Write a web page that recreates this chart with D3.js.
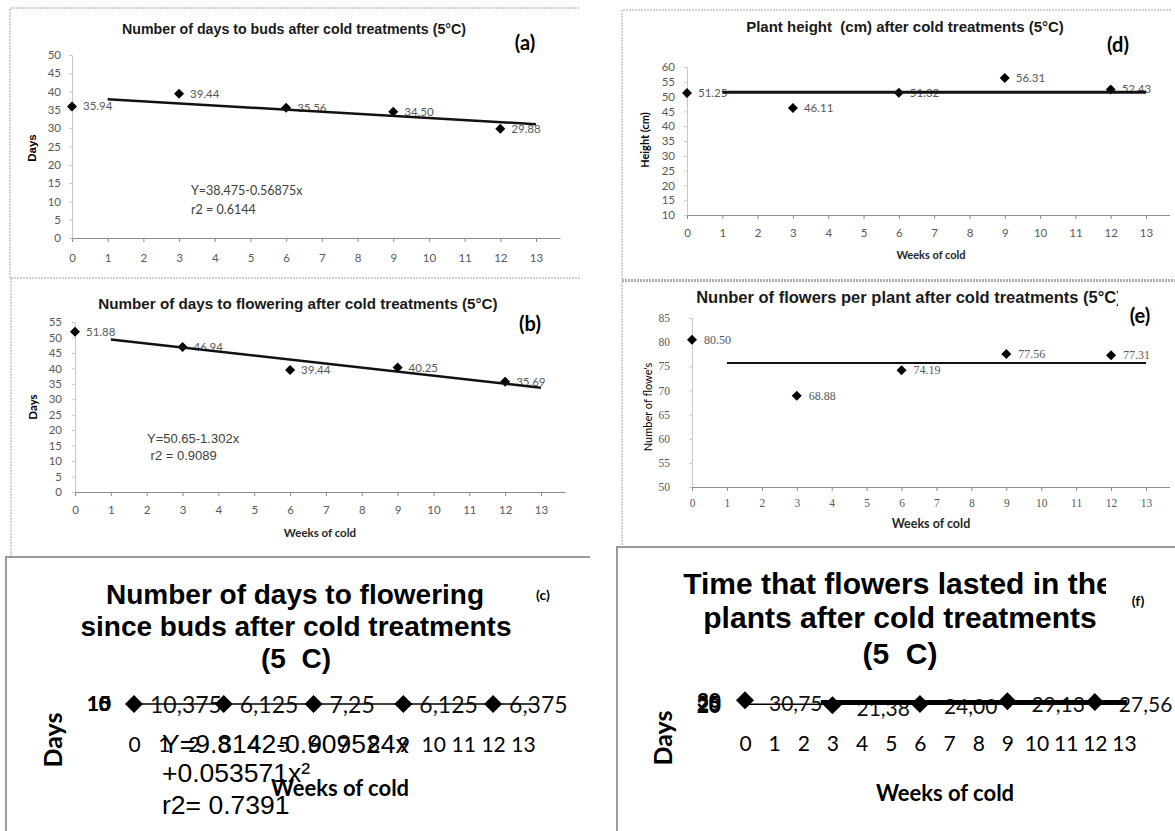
<!DOCTYPE html>
<html><head><meta charset="utf-8">
<script src="https://cdn.jsdelivr.net/npm/d3@7"></script>
<style>
body{margin:0;background:#fff}
svg{display:block}
</style></head><body>
<svg id="chart" width="1175" height="831"></svg>
<script>
// ---------------- data ----------------
const weeks = [0, 3, 6, 9, 12];
const xTickValues = [0,1,2,3,4,5,6,7,8,9,10,11,12,13];

const budsDays = [35.94, 39.44, 35.56, 34.50, 29.88];            // (a)
const floweringDays = [51.88, 46.94, 39.44, 40.25, 35.69];       // (b)
const budToFlowerDays = [10.375, 6.125, 7.25, 6.125, 6.375];     // (c)
const budToFlowerLabels = ["10,375", "6,125", "7,25", "6,125", "6,375"];
const plantHeight = [51.25, 46.11, 51.32, 56.31, 52.43];         // (d)
const flowersPerPlant = [80.50, 68.88, 74.19, 77.56, 77.31];     // (e)
const flowerLastDays = [30.75, 21.38, 24.00, 29.13, 27.56];      // (f)
const flowerLastLabels = ["30,75", "21,38", "24,00", "29,13", "27,56"];

const yTicksA = [0,5,10,15,20,25,30,35,40,45,50];
const yTicksB = [0,5,10,15,20,25,30,35,40,45,50,55];
const yTicksC = [0,5,10,15];
const yTicksD = [10,15,20,25,30,35,40,45,50,55,60];
const yTicksE = [50,55,60,65,70,75,80,85];
const yTicksF = [20,25,30];

const trendCoefA = [38.475, -0.56875];
const trendCoefB = [50.65, -1.302];
const trendCoefC = [9.8142, -0.909524, 0.053571];
const trendLevelD = 51.48;
const trendLevelE = 75.69;
const trendSpan = [1, 13];
const trendSpanC = [0, 13.5];
const trendFThin = [[0, 23.3], [2.6, 23.3]];
const trendFThick = [[2.6, 26.8], [13.1, 26.8]];

// ---------------- helpers ----------------
const svg = d3.select("#chart");
const SANS = "'Liberation Sans', Arial, sans-serif";
const CAL = "Lato, 'Open Sans', sans-serif";
const SERIF = "'Liberation Serif', 'Times New Roman', serif";

function diamond(g, cx, cy, diag) {
  const size = (diag / Math.SQRT2) ** 2;
  g.append("path")
    .attr("d", d3.symbol(d3.symbolSquare, size)())
    .attr("transform", `translate(${cx},${cy}) rotate(45)`)
    .attr("fill", "#000");
}
function text(g, x, y, str, font, opts = {}) {
  const t = g.append("text").attr("x", x).attr("y", y).text(str)
    .style("font", font).attr("fill", opts.fill || "#000")
    .attr("text-anchor", opts.anchor || "start")
    .attr("dy", opts.dy || "0.35em")
    .style("white-space", "pre");
  if (opts.rotate) t.attr("transform", `rotate(-90,${x},${y})`);
  if (opts.clip) t.attr("clip-path", opts.clip);
  return t;
}
function fmt2(v) { return d3.format(".2f")(v); }

// ---------------- frames ----------------
const frames = svg.append("g").attr("fill", "none");
frames.append("path").attr("d", "M10,278 V8 H580").attr("stroke", "#a6a6a6").attr("stroke-dasharray", "2,1");
frames.append("path").attr("d", "M11,278 H580").attr("stroke", "#a6a6a6").attr("stroke-dasharray", "2,1");
frames.append("path").attr("d", "M11,278 V557").attr("stroke", "#a6a6a6").attr("stroke-dasharray", "2,1");
frames.append("path").attr("d", "M6,831 V557 H590").attr("stroke", "#9a9a9a").attr("stroke-width", 2);
frames.append("path").attr("d", "M622,279 V10 H1172").attr("stroke", "#a6a6a6").attr("stroke-dasharray", "2,1");
frames.append("path").attr("d", "M622,280.5 H1175").attr("stroke", "#b0b0b0").attr("stroke-width", 3).attr("stroke-dasharray", "2,1");
frames.append("path").attr("d", "M622,282 V547").attr("stroke", "#a6a6a6").attr("stroke-dasharray", "2,1");
frames.append("path").attr("d", "M617,831 V547 H1175").attr("stroke", "#9a9a9a").attr("stroke-width", 2);

const defs = svg.append("defs");
defs.append("clipPath").attr("id", "clipE").append("rect").attr("x", 622).attr("y", 280).attr("width", 496).attr("height", 40);
defs.append("clipPath").attr("id", "clipF").append("rect").attr("x", 617).attr("y", 560).attr("width", 489).attr("height", 50);

// ---------------- standard panels ----------------
function stdPanel(o) {
  const g = svg.append("g");
  const x = d3.scaleLinear().domain([0, 13]).range(o.xr);
  const y = d3.scaleLinear().domain(o.yd).range(o.yr);
  const xAxisScale = d3.scaleLinear().domain([0, 13.67]).range([x(0), x(13.67)]);

  const gx = g.append("g").attr("transform", `translate(0,${o.yr[0]})`)
    .call(d3.axisBottom(xAxisScale).tickValues(xTickValues).tickSize(4).tickPadding(o.xpad).tickSizeOuter(0));
  gx.select(".domain").attr("stroke", "#8c8c8c");
  gx.selectAll(".tick line").attr("stroke", "#8c8c8c");
  gx.selectAll(".tick text").attr("fill", "#595959").style("font", o.tickFont);

  const gy = g.append("g").attr("transform", `translate(${x(0)},0)`)
    .call(d3.axisLeft(y).tickValues(o.yt).tickSize(3).tickPadding(o.ypad).tickSizeOuter(0));
  gy.select(".domain").attr("stroke", "#c8c8c8");
  gy.selectAll(".tick line").attr("stroke", "#c8c8c8");
  gy.selectAll(".tick text").attr("fill", "#595959").style("font", o.tickFont);

  g.selectAll(".lbl").data(o.values).join("text")
    .attr("x", (d, i) => x(weeks[i]) + o.lblDx)
    .attr("y", d => y(d)).attr("dy", "0.35em")
    .attr("fill", "#595959").style("font", o.lblFont)
    .text(d => fmt2(d));
  o.values.forEach((d, i) => diamond(g, x(weeks[i]), y(d), 10));
  const line = d3.line().x(d => x(d[0])).y(d => y(d[1]));
  g.append("path").datum(trendSpan.map(t => [t, o.trend(t)]))
    .attr("d", line).attr("fill", "none").attr("stroke", "#111").attr("stroke-width", o.trendW);
  return g;
}

// (a)
const gA = stdPanel({
  xr: [72, 536], yd: [0, 50], yr: [238, 55], yt: yTicksA,
  xpad: 12, ypad: 8, tickFont: `11.5px ${CAL}`, lblFont: `11.5px ${CAL}`, lblDx: 11,
  values: budsDays, trend: t => trendCoefA[0] + trendCoefA[1] * t, trendW: 2.5
});
text(gA, 294, 29, "Number of days to buds after cold treatments (5°C)", `bold 14.2px ${SANS}`, {anchor: "middle", fill: "#1a1a1a"});
text(gA, 525, 43, "(a)", `bold 20px ${CAL}`, {anchor: "middle"});
text(gA, 32, 148, "Days", `bold 11.5px ${SANS}`, {anchor: "middle", rotate: true});
text(gA, 191, 191, "Y=38.475-0.56875x", `12.5px ${CAL}`, {fill: "#404040"});
text(gA, 191, 210, "r2 = 0.6144", `12.5px ${CAL}`, {fill: "#404040"});

// (b)
const gB = stdPanel({
  xr: [75, 541], yd: [0, 55], yr: [492, 322], yt: yTicksB,
  xpad: 10, ypad: 10, tickFont: `11.5px ${CAL}`, lblFont: `11.5px ${CAL}`, lblDx: 11,
  values: floweringDays, trend: t => trendCoefB[0] + trendCoefB[1] * t, trendW: 2.5
});
text(gB, 298, 304, "Number of days to flowering after cold treatments (5°C)", `bold 15.2px ${SANS}`, {anchor: "middle", fill: "#1a1a1a"});
text(gB, 530, 324, "(b)", `bold 20px ${CAL}`, {anchor: "middle"});
text(gB, 33, 407, "Days", `bold 11.5px ${CAL}`, {anchor: "middle", rotate: true});
text(gB, 320, 533, "Weeks of cold", `bold 11.5px ${CAL}`, {anchor: "middle", fill: "#262626"});
text(gB, 147, 438, "Y=50.65-1.302x", `13px ${SANS}`, {fill: "#404040"});
text(gB, 147, 455, " r2 = 0.9089", `13px ${SANS}`, {fill: "#404040"});

// (d)
const gD = stdPanel({
  xr: [687, 1146], yd: [10, 60], yr: [215, 67], yt: yTicksD,
  xpad: 10, ypad: 9, tickFont: `11.5px ${CAL}`, lblFont: `11.5px ${CAL}`, lblDx: 11,
  values: plantHeight, trend: () => trendLevelD, trendW: 3
});
text(gD, 905, 27, "Plant height  (cm) after cold treatments (5°C)", `bold 15px ${SANS}`, {anchor: "middle", fill: "#1a1a1a"});
text(gD, 1118, 45, "(d)", `bold 20px ${CAL}`, {anchor: "middle"});
text(gD, 645, 140, "Height (cm)", `bold 11px ${CAL}`, {anchor: "middle", rotate: true});
text(gD, 931, 255, "Weeks of cold", `bold 11px ${CAL}`, {anchor: "middle", fill: "#262626"});

// (e)
const gE = stdPanel({
  xr: [692, 1146], yd: [50, 85], yr: [487, 318], yt: yTicksE,
  xpad: 8, ypad: 19, tickFont: `11.5px ${SERIF}`, lblFont: `12px ${SERIF}`, lblDx: 12,
  values: flowersPerPlant, trend: () => trendLevelE, trendW: 2
});
text(gE, 909, 297, "Nunber of flowers per plant after cold treatments (5°C)", `bold 16.5px ${SANS}`, {anchor: "middle", fill: "#1a1a1a", clip: "url(#clipE)"});
text(gE, 1140, 316, "(e)", `bold 20px ${CAL}`, {anchor: "middle"});
text(gE, 648, 407, "Number of flowe's", `11px ${CAL}`, {anchor: "middle", rotate: true});
text(gE, 931, 524, "Weeks of cold", `bold 12.5px ${CAL}`, {anchor: "middle", fill: "#262626"});

// ---------------- collapsed panels (c) and (f) ----------------
function collapsedPanel(o) {
  const g = svg.append("g");
  const x = d3.scaleLinear().domain([0, 13]).range(o.xr);
  const y = d3.scaleLinear().domain(o.yd).range(o.yr);

  const gx = g.append("g").attr("transform", `translate(0,${o.axisY})`)
    .call(d3.axisBottom(x).tickValues(xTickValues).tickSize(0).tickPadding(o.xpad));
  gx.select(".domain").remove();
  gx.selectAll(".tick text").attr("fill", "#000").style("font", `21px ${CAL}`);

  const gy = g.append("g").attr("transform", `translate(${o.yAxisX},0)`)
    .call(d3.axisLeft(y).tickValues(o.yt).tickSize(0).tickPadding(0));
  gy.select(".domain").remove();
  gy.selectAll(".tick text").attr("fill", "#000").style("font", `bold 21px ${CAL}`);

  g.selectAll(".lbl").data(o.values).join("text")
    .attr("x", (d, i) => x(weeks[i]) + o.lblDx)
    .attr("y", d => y(d) + o.lblDy).attr("dy", "0.35em")
    .attr("fill", "#111").style("font", o.lblFont)
    .text((d, i) => o.labels[i]);

  const line = d3.line().x(d => x(d[0])).y(d => y(d[1]));
  o.lines.forEach(l => g.append("path").datum(l.pts).attr("d", line)
    .attr("fill", "none").attr("stroke", "#000").attr("stroke-width", l.w));

  o.values.forEach((d, i) => diamond(g, x(weeks[i]), y(d), 18));
  return {g, x, y};
}

// (c)
const polyC = t => trendCoefC[0] + trendCoefC[1] * t + trendCoefC[2] * t * t;
const C = collapsedPanel({
  xr: [134, 523], yd: [0, 15], yr: [704, 704], yt: yTicksC, axisY: 704, xpad: 33, yAxisX: 111,
  values: budToFlowerDays, labels: budToFlowerLabels, lblDx: 16, lblDy: 1, lblFont: `23px ${CAL}`,
  lines: [{pts: d3.range(trendSpanC[0], trendSpanC[1] + 0.01, 0.5).map(t => [t, polyC(t)]), w: 1.5}]
});
text(C.g, 295, 594, "Number of days to flowering", `bold 28px ${SANS}`, {anchor: "middle"});
text(C.g, 296, 626, "since buds after cold treatments", `bold 28px ${SANS}`, {anchor: "middle"});
text(C.g, 296, 658, "(5  C)", `bold 28px ${SANS}`, {anchor: "middle"});
text(C.g, 543, 595, "(c)", `bold 14px ${CAL}`, {anchor: "middle"});
text(C.g, 53, 740, "Days", `bold 25px ${CAL}`, {anchor: "middle", rotate: true});
text(C.g, 340, 788, "Weeks of cold", `bold 22px ${CAL}`, {anchor: "middle"});
text(C.g, 162, 744, "Y=9.8142-0.909524x", `26.5px ${SANS}`, {fill: "#000"});
text(C.g, 162, 773, "+0.053571x²", `26.5px ${SANS}`, {fill: "#000"});
text(C.g, 162, 805, "r2= 0.7391", `26.5px ${SANS}`, {fill: "#000"});

// (f)
const F = collapsedPanel({
  xr: [745, 1124], yd: [20, 30], yr: [706, 700.7], yt: yTicksF, axisY: 703, xpad: 33, yAxisX: 721,
  values: flowerLastDays, labels: flowerLastLabels, lblDx: 24, lblDy: 3, lblFont: `21px ${CAL}`,
  lines: [{pts: trendFThin, w: 1.5}, {pts: trendFThick, w: 5}]
});
text(F.g, 898, 583, "Time that flowers lasted in the", `bold 30px ${SANS}`, {anchor: "middle", clip: "url(#clipF)"});
text(F.g, 900, 617, "plants after cold treatments", `bold 30px ${SANS}`, {anchor: "middle"});
text(F.g, 900, 653, "(5  C)", `bold 30px ${SANS}`, {anchor: "middle"});
text(F.g, 1138, 601, "(f)", `bold 14px ${CAL}`, {anchor: "middle"});
text(F.g, 663, 738, "Days", `bold 25px ${CAL}`, {anchor: "middle", rotate: true});
text(F.g, 945, 793, "Weeks of cold", `bold 22px ${CAL}`, {anchor: "middle"});
</script>
</body></html>
